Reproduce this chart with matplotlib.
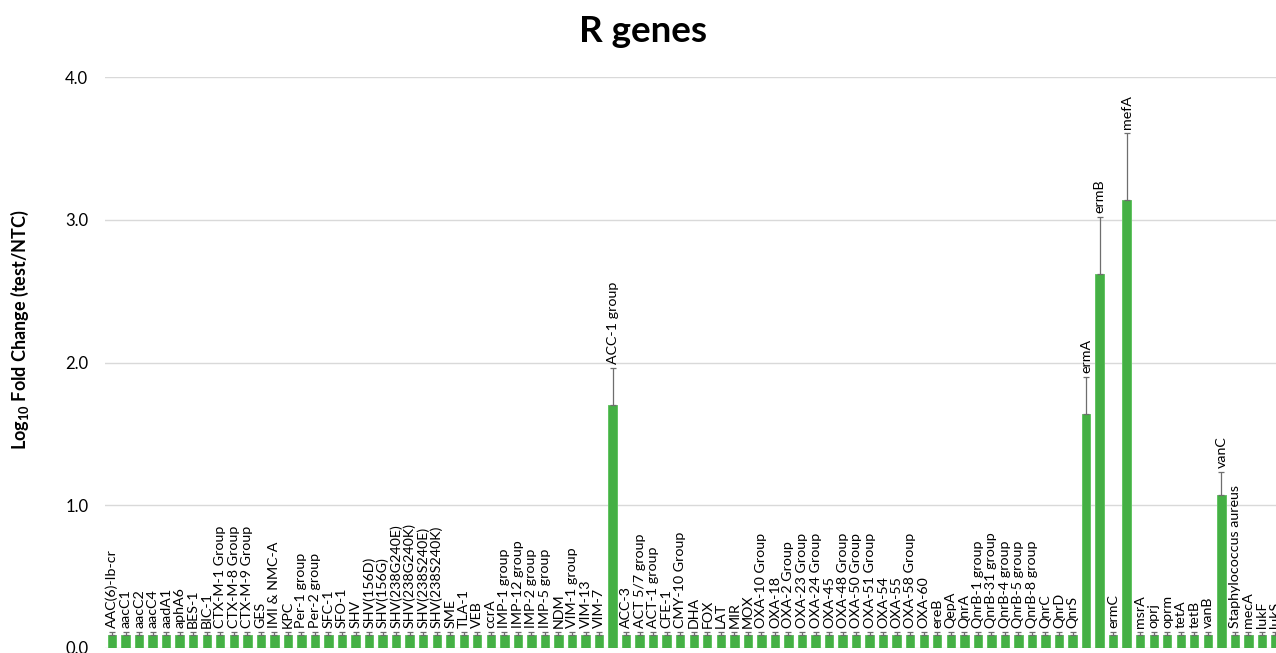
import matplotlib
matplotlib.use("Agg")
import matplotlib.pyplot as plt
import numpy as np

plt.rcParams['font.family'] = ['Lato', 'DejaVu Sans']
plt.rcParams['mathtext.fontset'] = 'custom'
plt.rcParams['mathtext.rm'] = 'Lato:bold'
plt.rcParams['mathtext.bf'] = 'Lato:bold'

# gene targets in plate order
genes = [
    'AAC(6)-Ib-cr', 'aacC1', 'aacC2', 'aacC4', 'aadA1', 'aphA6', 'BES-1', 'BIC-1',
    'CTX-M-1 Group', 'CTX-M-8 Group', 'CTX-M-9 Group', 'GES', 'IMI & NMC-A', 'KPC',
    'Per-1 group', 'Per-2 group', 'SFC-1', 'SFO-1', 'SHV', 'SHV(156D)', 'SHV(156G)',
    'SHV(238G240E)', 'SHV(238G240K)', 'SHV(238S240E)', 'SHV(238S240K)', 'SME',
    'TLA-1', 'VEB', 'ccrA', 'IMP-1 group', 'IMP-12 group', 'IMP-2 group',
    'IMP-5 group', 'NDM', 'VIM-1 group', 'VIM-13', 'VIM-7', 'ACC-1 group', 'ACC-3',
    'ACT 5/7 group', 'ACT-1 group', 'CFE-1', 'CMY-10 Group', 'DHA', 'FOX', 'LAT',
    'MIR', 'MOX', 'OXA-10 Group', 'OXA-18', 'OXA-2 Group', 'OXA-23 Group',
    'OXA-24 Group', 'OXA-45', 'OXA-48 Group', 'OXA-50 Group', 'OXA-51 Group',
    'OXA-54', 'OXA-55', 'OXA-58 Group', 'OXA-60', 'ereB', 'QepA', 'QnrA',
    'QnrB-1 group', 'QnrB-31 group', 'QnrB-4 group', 'QnrB-5 group', 'QnrB-8 group',
    'QnrC', 'QnrD', 'QnrS', 'ermA', 'ermB', 'ermC', 'mefA', 'msrA', 'oprj', 'oprm',
    'tetA', 'tetB', 'vanB', 'vanC', 'Staphylococcus aureus', 'mecA', 'lukF', 'lukS',
]

# log10 fold change for the genes that came up, everything else sits near baseline
raised = {'ACC-1 group': 1.70, 'ermA': 1.64, 'ermB': 2.62, 'mefA': 3.14, 'vanC': 1.07}
raised_err = {'ACC-1 group': 0.26, 'ermA': 0.26, 'ermB': 0.40, 'mefA': 0.47, 'vanC': 0.16}
base_val = 0.09
base_err = 0.02

values = np.array([raised.get(g, base_val) for g in genes])
errors = np.array([raised_err.get(g, base_err) for g in genes])

fig = plt.figure(figsize=(12.76, 6.53), dpi=100)
ax = fig.add_axes([105 / 1276, 5 / 653, 1171 / 1276, 571 / 653])

x = np.arange(len(genes))
ax.bar(x, values, width=0.62, color='#45B045', edgecolor='#62C462', linewidth=0.7,
       zorder=3)
ax.errorbar(x, values, yerr=[np.zeros_like(errors), errors], fmt='none',
            ecolor='#6E6E6E', elinewidth=0.9, capsize=2.5, capthick=0.9, zorder=4)

for xi, v, e, g in zip(x, values, errors, genes):
    ax.annotate(g, (xi, v + e), xytext=(0, 3), textcoords='offset points',
                rotation=90, ha='center', va='bottom', fontsize=10.3,
                color='black', annotation_clip=False)

ax.set_xlim(-0.52, len(genes) - 1 + 0.04)
ax.set_ylim(0, 4)
ax.set_yticks([0, 1, 2, 3, 4])
ax.set_yticklabels(['0.0', '1.0', '2.0', '3.0', '4.0'], fontsize=12)
ax.tick_params(axis='y', length=0, pad=12)
ax.set_xticks([])
ax.grid(axis='y', color='#D9D9D9', linewidth=1, zorder=0)
for s in ax.spines.values():
    s.set_visible(False)

fig.text(20 / 1276, 1 - 330 / 653, r'$\mathbf{Log_{10}}$ Fold Change (test/NTC)',
         rotation=90, ha='center', va='center', fontsize=13, fontweight='bold')
fig.text(643 / 1276, 1 - 32 / 653, 'R genes', ha='center', va='center',
         fontsize=26.5, fontweight='bold')

fig.savefig('out.png', dpi=100)
